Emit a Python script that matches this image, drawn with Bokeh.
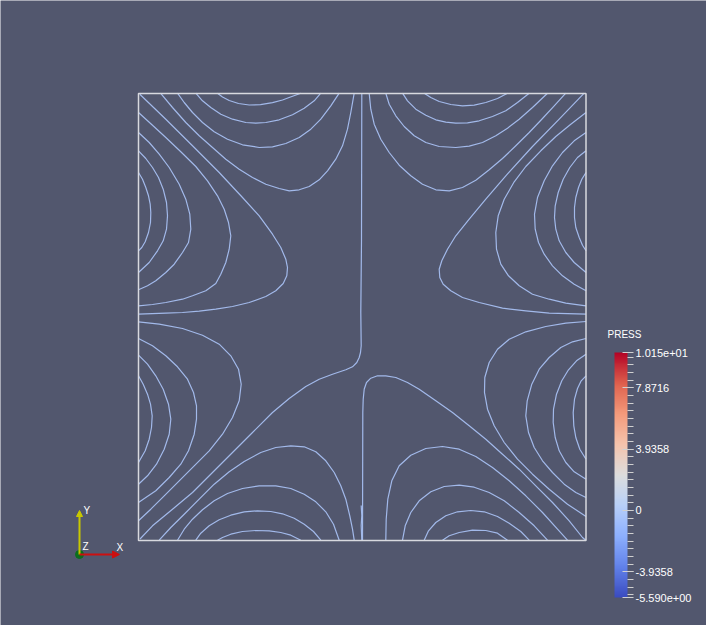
from bokeh.plotting import figure
from bokeh.models import ColorBar, LinearColorMapper, FixedTicker, Label, Arrow, NormalHead, CustomJSTickFormatter
from bokeh.embed import file_html
from bokeh.resources import INLINE

# ---------------- data (mesh units, y up) ----------------
DOMAIN_W = 447.5
DOMAIN_H = 447.0

PRESS_MIN = -5.590
PRESS_MAX = 10.15
CB_TICKS = [-5.590, -3.9358, 0.0, 3.9358, 7.8716, 10.15]
CB_LABELS = ["-5.590e+00", "-3.9358", "0", "3.9358", "7.8716", "1.015e+01"]
CB_MINOR_STEP = 0.491975

# upper-left quadrant: loops on the top wall
UL_TOP = [
    [(79,447.3),(84,443.5),(90.7,440),(100,437),(110.7,435.5),(122,435.8),(134,437.8),(144,440.5),(152,443.5),(162.3,447.3)],
    [(57.3,447.3),(64,439.7),(72.3,433),(82.3,426.3),(94,421.3),(107.3,418),(117.3,417.3),(127.3,418),(140.7,420.7),(154,425.7),(165.7,432.3),(175.7,439.7),(182.3,447.3)],
    [(39,447.3),(45.7,438),(54,428),(64,418),(75.7,408.7),(89,401.3),(104,395.7),(120.7,393),(134,393.7),(147.3,397),(160.7,403),(172.3,411.3),(182.3,421.3),(192.3,434.7),(200.7,447.3)],
    [(22,447.3),(34,433),(47.3,418),(60.7,404.7),(74,393),(87.3,381.3),(100.7,371.3),(114,363),(127.3,356.3),(140.7,352),(150.7,349.7),(160.7,350.7),(170.7,354),(180.7,360.7),(189,369.7),(197.3,381.3),(204,394.7),(209,411.3),(212.3,428),(215.7,447.3)],
]
# upper-left quadrant: loops on the left wall (last one reaches the corner)
UL_SIDE = [
    [(0,368),(4,361.3),(7.3,353),(10,344.7),(11.7,336.3),(12.3,328),(12,318),(10,308),(6.7,298.7),(3.3,293),(0,289.7)],
    [(0,389.7),(7.3,382),(14,373),(20,363),(24.7,351.3),(28,338),(29,324.7),(28,311.3),(24.7,299.7),(19,289.7),(10.7,278),(0,268)],
    [(0,408),(10.7,398),(20.7,386.3),(30.7,373),(40.7,356.3),(47.3,341.3),(51.3,326.3),(52.3,311.3),(50,298),(44,288),(35.7,276.3),(27.3,268),(17.3,259.7),(9,254.7),(0,250.7)],
    [(0,428),(14,415.3),(27.3,403),(42.3,388.7),(57.3,374),(69,359.7),(79,344.7),(85.7,331.3),(90,318),(92.3,304.7),(90.7,291.3),(87.3,278),(82.3,266.3),(77.3,257),(67.3,249.7),(54,244.7),(44,241.3),(27.3,238),(14,236),(0,234.7)],
    [(1.3,446.3),(27.3,421.3),(54,394.7),(80.7,368),(104,343),(120.7,324.7),(134,306.3),(142.3,293),(147.3,281.3),(149,273),(148.3,264.7),(144.7,257),(137.3,249.7),(127.3,244),(110.7,238),(94,234),(77.3,231.3),(60.7,229.3),(44,228),(27.3,227.3),(0,226.3)],
]
# upper-right quadrant: loops on the top wall
UR_TOP = [
    [(285.7,447.3),(292.3,443),(300.7,439),(312.3,436),(324,434.7),(335.7,435.3),(347.3,438),(359,442),(369,447.3)],
    [(264,447.3),(269,439.7),(277.3,431.3),(287.3,425.3),(297.3,420.7),(307.3,418.3),(317.3,417.3),(329,417.7),(340.7,419.7),(354,424),(367.3,429.7),(379,438),(390.7,447.3)],
    [(247.3,447.3),(250.7,436.3),(257.3,424.7),(265.7,414),(275.7,404.7),(287.3,398),(300.7,394),(317.3,393),(330.7,394.3),(344,398),(357.3,404.7),(369,412.3),(380.7,421.3),(394,433),(409,447.3)],
    [(230.7,447.3),(232.3,431.3),(235.7,416.3),(242.3,401.3),(250.7,388),(260.7,375.3),(272.3,364.7),(284,356.3),(297.3,350.7),(310.7,349.7),(324,353),(337.3,360.3),(350.7,370.7),(364,382),(377.3,394.7),(390.7,408),(404,422),(415.7,434.7),(427.3,447.3)],
]
# upper-right quadrant: loops on the right wall (last one reaches the corner)
UR_SIDE = [
    [(447.5,368),(443.3,361.3),(440,353),(437.3,343),(436,333),(436,323),(437.3,313),(440.7,303),(444,295.3),(447.5,289.7)],
    [(447.5,389.7),(439,383),(431.3,373),(424.7,361.3),(419.7,348),(416.7,334.7),(416,323),(417.3,311.3),(420.7,299.7),(427.3,288),(435.7,278),(447.5,268)],
    [(447.5,408),(435.7,399.7),(424,388),(414,374.7),(405.7,359.7),(399,343),(396,326.3),(396.7,311.3),(400,298),(405.7,286.3),(414,274.7),(424,264.7),(435.7,256.3),(447.5,249.7)],
    [(447.5,428),(432.3,416.3),(417.3,404),(402.3,389.7),(387.3,374),(375.7,358.7),(365.7,341.3),(359.7,324.7),(357.3,308),(358,291.3),(362.3,276.3),(370,264.7),(380.7,254.7),(394,246.3),(410.7,241.3),(427.3,237.3),(447.5,234.7)],
    [(445.7,447.3),(420.7,421.3),(394,394),(367.3,364.7),(347.3,341.3),(330.7,321.3),(317.3,304.7),(309,291.3),(303.3,279.7),(300.7,271.3),(301.3,263),(304.7,256.3),(312.3,249.7),(324,243),(340.7,238),(364,232.3),(387.3,229.7),(410.7,227.3),(447.5,226.3)],
]
# lower-left quadrant: loops on the left wall
LL_SIDE = [
    [(0,164.7),(4.7,156.3),(9,146.3),(12,136.3),(13.7,124.7),(13,113),(10.7,101.3),(6.7,89.7),(0,78)],
    [(0,185.3),(9,176.3),(17.3,164.7),(24.7,151.3),(30,136.3),(32.3,121.3),(30.7,106.3),(25.7,91.3),(18,76.3),(9,64.7),(0,56.3)],
    [(0,202),(14,194.7),(27.3,184.7),(39,173.7),(49,161.3),(55,148),(58,134.7),(58,121.3),(55.7,106.3),(50,89.7),(42.3,76.3),(30.7,63),(17.3,49.7),(7.3,43),(0,38)],
    [(0,218.7),(20.7,216.3),(44,212),(64,205.3),(80.7,196.3),(92.3,184.7),(100,171.3),(102.7,156.3),(100.7,139.7),(94,123),(84,106.3),(70.7,89.7),(55.7,74.7),(40.7,59.7),(25.7,44.7),(12.3,31.3),(0,19.7)],
]
# lower-left quadrant: loops on the bottom wall
LL_BOTTOM = [
    [(79,0.3),(84,3),(92.3,6.3),(104,9),(117.3,10),(130.7,9.7),(142.3,8),(152.3,5.3),(162.3,0.3)],
    [(57.3,0.3),(62.3,7.3),(70.7,14.7),(80.7,20.7),(92.3,25.3),(105.7,28.7),(119,29.7),(132.3,29),(144,26.7),(155.7,22.3),(165.7,16.3),(175,9),(182.3,0.3)],
    [(39,0.3),(45.7,11.3),(54,21.3),(64,30.7),(75.7,39.7),(89,47),(104,52),(120.7,54.7),(137.3,54.7),(152.3,52),(165.7,46.3),(177.3,38.7),(187.3,28.7),(195,16.3),(200.7,0.3)],
    [(20.7,0.3),(32.3,13),(45.7,26.3),(60.7,41.3),(75.7,56.3),(90.7,68.7),(105.7,79),(122.3,88),(137.3,93),(152.3,94.7),(165.7,93.7),(177.3,88.7),(187.3,79.7),(195.7,68),(202.3,54.7),(207.3,41.3),(211.3,24.7),(214,11.3),(215.7,0.3)],
    [(222.7,35),(223.3,25),(222.7,15),(223.3,0.3)],
]
# lower-right quadrant: loops on the right wall
LR_SIDE = [
    [(447.5,164.7),(442.7,159.7),(439,152),(436,141.3),(434.7,128),(435.3,114.7),(437.3,103),(441.3,91.3),(447.5,81.3)],
    [(447.5,186.3),(438,179.7),(430,170.7),(423.3,159.7),(418,146.3),(415,131.3),(414.7,118),(416.7,103),(420.7,89.7),(427.3,78),(435.7,68.7),(447.5,61.3)],
    [(447.5,202),(434,198.7),(422.3,193),(410.7,183),(400.7,171.3),(393.3,156.3),(388.7,139.7),(387.3,124.7),(390,108),(395.7,93),(404,79.7),(414,68),(425.7,56.3),(437.3,48),(447.5,43)],
    [(447.5,219),(427.3,217.3),(407.3,214),(387.3,208.7),(370.7,201.3),(359,191.3),(350.7,178),(346.3,163),(346,148),(349,131.3),(355.7,114.7),(365.7,98),(379,81.3),(394,66.3),(410.7,51.3),(429,36.3),(447.5,24)],
]
# lower-right quadrant: loops on the bottom wall
LR_BOTTOM = [
    [(304,0.3),(310.7,4.7),(320.7,8),(334,10.3),(347.3,10),(359,7.3),(369,0.3)],
    [(285.7,0.3),(290,9.7),(297.3,18),(307.3,24.7),(319,28.7),(332.3,30),(345.7,28.7),(359,24),(370.7,17.3),(382.3,9),(390.7,0.3)],
    [(264,0.3),(266.7,14.7),(272.3,28),(280.7,39.7),(292.3,48.7),(305.7,54),(320.7,55.3),(335.7,53.3),(350.7,48),(365.7,39.7),(380.7,28),(395.7,14.7),(409,0.3)],
    [(247.3,0.3),(247.7,21.3),(249.3,41.3),(253.3,59.7),(260.7,74.7),(272.3,85.3),(287.3,92),(304,94),(320.7,91.3),(337.3,84),(354,73),(370.7,59.7),(387.3,44.7),(404,28),(419,11.3),(429,0.3)],
]
# central separatrices (top wall -> bottom-left corner, bottom wall -> bottom-right corner)
SEPARATRIX = [
    [(223.3,447.3),(223,300),(222.3,228),(222.7,194.7),(222,188),(220.7,183),(218.3,178),(214,173.7),(207.3,170.7),(194,166.3),(180.7,161.3),(167.3,154),(150.7,142),(134,128),(114,108),(94,88),(74,68),(54,48),(34,31.3),(14,14.7),(1.5,1.5)],
    [(224,0.3),(224.3,128),(224.7,141.3),(225.7,151.3),(228,158),(232.3,162.3),(239,164.7),(247.3,164.7),(257.3,163),(269,158),(280.7,151.3),(297.3,139.7),(314,128),(330.7,114.7),(347.3,101.3),(364,86.3),(380.7,71.3),(397.3,54.7),(414,38),(430.7,19.7),(444,3),(447.5,0)],
]

# ---------------- style / layout ----------------
BG = "#52576E"
LINE_COLOR = "#a2b9ea"

p = figure(width=706, height=625, output_backend="svg", toolbar_location=None,
           x_range=(-138, 568), y_range=(-85, 540), min_border=0)
p.background_fill_color = BG
p.border_fill_color = BG
p.outline_line_color = None
p.axis.visible = False
p.grid.visible = False

all_curves = UL_TOP + UL_SIDE + UR_TOP + UR_SIDE + LL_SIDE + LL_BOTTOM + LR_SIDE + LR_BOTTOM + SEPARATRIX
xs = [[pt[0] for pt in c] for c in all_curves]
ys = [[pt[1] for pt in c] for c in all_curves]
p.multi_line(xs, ys, line_color=LINE_COLOR, line_width=1.2, line_join="round")

# domain outline
p.quad(left=[0], right=[DOMAIN_W], bottom=[0], top=[DOMAIN_H], fill_alpha=0,
       line_color="#d8d9df", line_width=1.5)

# orientation triad
O = (-59, -14)
p.add_layout(Arrow(x_start=O[0], y_start=O[1], x_end=O[0], y_end=O[1] + 44,
                   line_color="#c8c800", line_width=2,
                   end=NormalHead(size=6, fill_color="#c8c800", line_color="#c8c800")))
p.add_layout(Arrow(x_start=O[0], y_start=O[1], x_end=O[0] + 40, y_end=O[1],
                   line_color="#cc1010", line_width=2,
                   end=NormalHead(size=7, fill_color="#cc1010", line_color="#cc1010")))
p.scatter([O[0]], [O[1]], size=8, fill_color="#0b6e1e", line_color="#0b6e1e")
for txt, dx, dy in [("Y", 4, 39), ("Z", 3, 3), ("X", 37, 2)]:
    p.add_layout(Label(x=O[0] + dx, y=O[1] + dy, text=txt, text_color="white",
                       text_font="Liberation Sans", text_font_size="10px"))

# color bar (Cool to Warm)
keys = [(59,76,192),(98,130,234),(141,176,254),(184,208,249),(221,221,221),
        (245,196,173),(244,154,123),(222,96,77),(180,4,38)]
palette = []
n = 256
for i in range(n):
    t = i / (n - 1) * (len(keys) - 1)
    k = min(int(t), len(keys) - 2)
    f = t - k
    c = tuple(int(round(keys[k][j] + (keys[k + 1][j] - keys[k][j]) * f)) for j in range(3))
    palette.append("#%02x%02x%02x" % c)

mapper = LinearColorMapper(palette=palette, low=PRESS_MIN, high=PRESS_MAX)
minor = [CB_MINOR_STEP * k for k in range(-11, 21)]
fmt = CustomJSTickFormatter(args=dict(tvals=CB_TICKS, tlabels=CB_LABELS), code="""
for (let i = 0; i < tvals.length; i++) { if (Math.abs(tick - tvals[i]) < 1e-6) return tlabels[i]; }
return '';
""")
cb = ColorBar(color_mapper=mapper, orientation="vertical", width=13, height=245,
              location=(614, 28), padding=0, title=None,
              ticker=FixedTicker(ticks=CB_TICKS, minor_ticks=minor), formatter=fmt,
              major_label_text_color="white", major_label_text_font="Liberation Sans",
              major_label_text_font_size="11px",
              major_tick_line_color="#d0d0d0", major_tick_in=5, major_tick_out=6,
              minor_tick_line_color="#d0d0d0", minor_tick_in=0, minor_tick_out=6,
              label_standoff=2, bar_line_color=None, border_line_color=None,
              background_fill_alpha=0)
p.add_layout(cb)
p.add_layout(Label(x=607, y=286, x_units="screen", y_units="screen", text="PRESS",
                   text_color="white", text_font="Liberation Sans", text_font_size="10px"))

open("out.html", "w").write(file_html(p, INLINE))
